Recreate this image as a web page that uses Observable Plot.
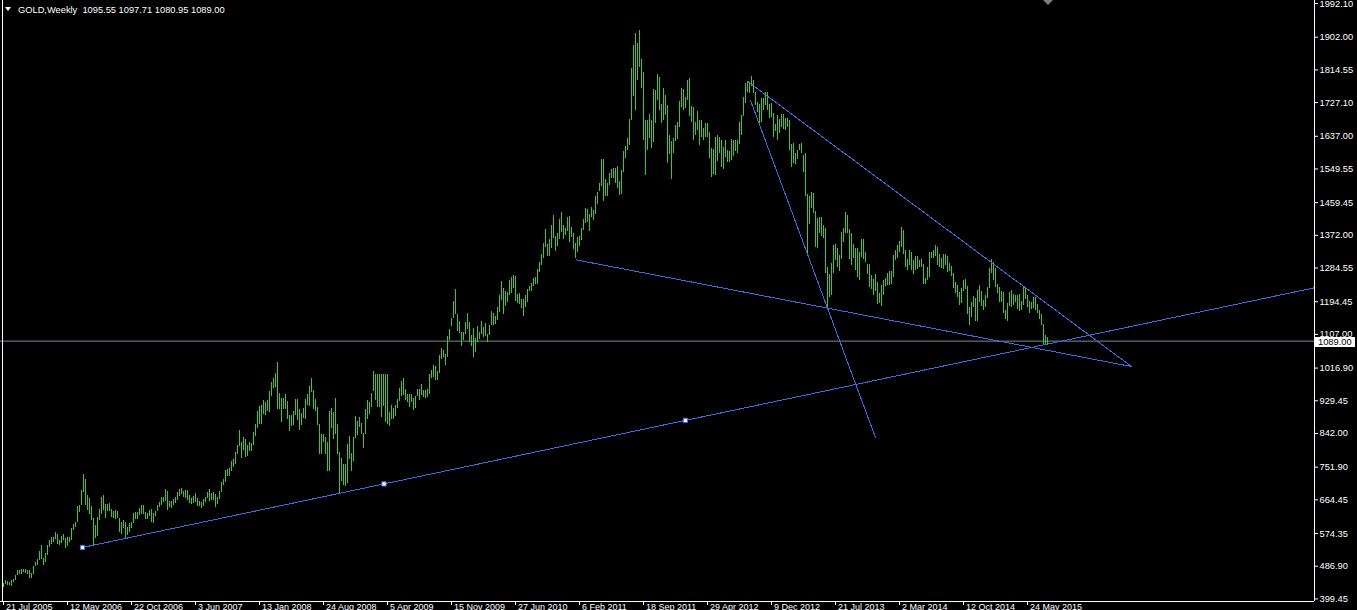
<!DOCTYPE html>
<html>
<head>
<meta charset="utf-8">
<script src="https://cdn.jsdelivr.net/npm/d3@7"></script>
<script src="https://cdn.jsdelivr.net/npm/@observablehq/plot@0.6"></script>
<style>
  html, body { margin: 0; padding: 0; background: #000; overflow: hidden; }
  #chart svg { display: block; }
</style>
</head>
<body>
<div id="chart"></div>
<script>
// Weekly GOLD bars, [high, low], one per week starting at the first bar (late Jul/Aug 2005)
const w2005 = [[441,429],[448,437],[447,436],[444,434],[448,433],[452,444],[461,449],[475,461],[476,464],[477,465],[478,469],[478,467],[476,466],[475,454],[468,455],[487,465],[496,485],[504,489],[527,503],[541,505],[508,490],[520,498]];
const w2006 = [[541,515],[556,537],[564,545],[563,551],[576,558],[573,544],[557,543],[566,548],[571,555],[560,535],[563,540],[565,551],[587,556],[598,583],[605,590],[646,604],[650,630],[690,648],[732,684],[720,648],[676,637],[667,625],[646,608],[614,543],[596,560],[616,567],[638,609],[670,626],[676,635],[651,614],[652,633],[655,632],[638,616],[634,614],[636,613],[633,615],[614,576],[603,571],[608,587],[603,560],[590,570],[600,578],[605,587],[627,600],[630,612],[630,612],[642,622],[648,626],[650,625],[630,611],[628,612],[635,621]];
const w2007 = [[638,603],[628,602],[634,621],[650,634],[657,645],[670,650],[672,658],[691,660],[688,636],[660,644],[660,641],[666,649],[670,655],[684,662],[693,674],[695,680],[687,672],[690,668],[690,664],[677,655],[668,652],[674,655],[682,658],[667,646],[661,647],[656,640],[665,647],[671,658],[683,667],[693,660],[681,664],[683,662],[679,643],[671,653],[686,666],[711,683],[720,703],[744,711],[746,726],[747,727],[767,739],[772,751],[790,758],[810,786],[850,808],[818,776],[830,796],[826,778],[810,781],[818,793],[815,794],[844,810]];
const w2008 = [[866,834],[902,855],[914,867],[917,866],[930,892],[925,889],[930,901],[954,899],[978,942],[989,962],[1003,966],[1033,905],[950,905],[935,872],[935,905],[946,905],[928,880],[890,846],[890,860],[902,863],[934,890],[932,876],[907,850],[895,862],[908,882],[933,880],[946,918],[968,915],[989,951],[958,906],[933,901],[912,862],[866,786],[840,785],[840,818],[832,787],[817,740],[902,740],[910,855],[899,825],[935,838],[867,785],[791,681],[775,713],[760,703],[760,699],[813,708],[833,772],[789,740],[830,768],[888,829],[873,836],[885,859]];
const w2009 = [[868,840],[843,802],[905,838],[929,880],[925,892],[950,911],[1007,953],[1000,931],[1000,911],[1000,912],[1000,885],[1000,913],[1000,870],[1000,865],[898,861],[917,880],[910,880],[918,887],[934,910],[962,927],[982,941],[989,944],[959,930],[946,924],[945,912],[946,925],[935,904],[942,910],[960,941],[960,931],[972,944],[957,937],[958,935],[960,939],[1000,947],[1011,988],[1025,993],[1020,985],[1008,984],[1050,1002],[1070,1040],[1064,1044],[1054,1023],[1101,1045],[1120,1090],[1150,1129],[1195,1150],[1226,1160],[1160,1115],[1141,1109],[1112,1075],[1112,1090]];
const w2010 = [[1140,1108],[1162,1120],[1140,1085],[1105,1075],[1123,1045],[1096,1058],[1127,1085],[1113,1094],[1141,1106],[1125,1098],[1135,1102],[1108,1086],[1131,1103],[1168,1130],[1162,1132],[1156,1133],[1180,1144],[1210,1166],[1249,1199],[1231,1160],[1221,1181],[1220,1192],[1251,1210],[1259,1217],[1265,1230],[1261,1196],[1215,1190],[1216,1186],[1201,1176],[1200,1155],[1212,1180],[1227,1192],[1236,1223],[1244,1223],[1257,1234],[1260,1241],[1280,1240],[1300,1273],[1322,1292],[1349,1311],[1388,1340],[1347,1315],[1360,1316],[1397,1338],[1424,1363],[1370,1330],[1378,1341],[1415,1360],[1432,1379],[1398,1362],[1390,1371],[1421,1381]];
const w2011 = [[1422,1353],[1392,1365],[1378,1335],[1349,1309],[1365,1326],[1369,1341],[1390,1357],[1415,1384],[1445,1405],[1441,1406],[1427,1381],[1447,1420],[1438,1413],[1476,1429],[1487,1454],[1510,1490],[1576,1502],[1574,1462],[1522,1477],[1512,1477],[1537,1505],[1547,1525],[1552,1524],[1551,1510],[1556,1496],[1516,1478],[1546,1480],[1595,1541],[1610,1577],[1632,1598],[1681,1612],[1817,1680],[1881,1744],[1912,1705],[1885,1787],[1921,1822],[1843,1764],[1808,1627],[1680,1532],[1680,1600],[1695,1630],[1680,1603],[1761,1620],[1760,1672],[1802,1733],[1794,1705],[1722,1670],[1764,1680],[1745,1693],[1720,1563],[1640,1588],[1622,1522]];
const w2012 = [[1630,1591],[1665,1623],[1673,1628],[1731,1660],[1764,1713],[1763,1706],[1742,1712],[1787,1733],[1791,1689],[1717,1674],[1715,1627],[1673,1638],[1703,1652],[1679,1612],[1680,1635],[1659,1625],[1672,1633],[1672,1634],[1647,1577],[1605,1527],[1601,1535],[1633,1532],[1640,1570],[1634,1590],[1627,1554],[1606,1548],[1625,1579],[1598,1567],[1596,1566],[1628,1573],[1627,1584],[1625,1597],[1626,1590],[1675,1615],[1693,1640],[1740,1690],[1778,1725],[1780,1753],[1780,1751],[1796,1770],[1786,1752],[1755,1718],[1728,1700],[1721,1672],[1737,1675],[1737,1707],[1755,1718],[1754,1705],[1723,1685],[1725,1687],[1698,1635],[1669,1651]];
const w2013 = [[1693,1625],[1683,1644],[1695,1661],[1696,1655],[1685,1652],[1684,1661],[1680,1600],[1616,1554],[1619,1565],[1590,1562],[1598,1575],[1616,1600],[1618,1590],[1586,1539],[1590,1476],[1480,1321],[1477,1400],[1487,1444],[1483,1430],[1437,1339],[1418,1336],[1420,1376],[1421,1370],[1399,1364],[1391,1269],[1285,1180],[1268,1207],[1298,1210],[1346,1271],[1348,1306],[1337,1286],[1318,1274],[1380,1308],[1390,1353],[1434,1376],[1425,1377],[1388,1307],[1376,1292],[1347,1309],[1338,1277],[1337,1260],[1326,1251],[1362,1312],[1361,1307],[1326,1299],[1295,1266],[1293,1233],[1265,1226],[1254,1210],[1267,1223],[1245,1186],[1217,1190],[1239,1182]];
const w2014 = [[1251,1211],[1256,1236],[1270,1238],[1275,1238],[1274,1240],[1319,1259],[1332,1306],[1345,1311],[1355,1325],[1392,1339],[1386,1321],[1332,1286],[1307,1277],[1331,1291],[1327,1277],[1305,1268],[1315,1277],[1315,1281],[1305,1285],[1307,1287],[1295,1240],[1257,1240],[1285,1251],[1325,1259],[1327,1310],[1332,1309],[1346,1315],[1340,1292],[1322,1287],[1311,1282],[1322,1280],[1321,1292],[1315,1273],[1297,1275],[1288,1262],[1269,1229],[1246,1216],[1237,1207],[1220,1183],[1229,1190],[1250,1221],[1254,1226],[1236,1160],[1179,1131],[1192,1151],[1209,1180],[1204,1142],[1224,1141],[1238,1193],[1221,1181],[1199,1170],[1212,1180]];
const w2015 = [[1232,1203],[1283,1229],[1307,1271],[1300,1252],[1282,1232],[1241,1216],[1232,1191],[1223,1191],[1219,1164],[1170,1147],[1189,1142],[1219,1181],[1224,1178],[1214,1183],[1210,1192],[1211,1174],[1214,1169],[1195,1170],[1232,1183],[1232,1201],[1211,1180],[1196,1162],[1193,1173],[1205,1175],[1205,1170],[1186,1162],[1170,1146],[1159,1131],[1133,1077],[1103,1078],[1097.71,1080.95]];

// Current (last) bar values shown in the header
const lastOHLC = [1095.55, 1097.71, 1080.95, 1089.00];
const symbolName = "GOLD,Weekly";

// Price scale labels (right)
const priceTicks = [1992.10, 1902.00, 1814.55, 1727.10, 1637.00, 1549.55, 1459.45, 1372.00, 1284.55, 1194.45, 1107.00, 1016.90, 929.45, 842.00, 751.90, 664.45, 574.35, 486.90, 399.45];

// Time scale labels (bottom), at bar index
const dateTickIndex = [0, 32, 64, 96, 128, 160, 192, 224, 256, 288, 320, 352, 384, 416, 448, 480, 512];
const dateLabels = ["21 Jul 2005", "12 May 2006", "22 Oct 2006", "3 Jun 2007", "13 Jan 2008", "24 Aug 2008", "5 Apr 2009", "15 Nov 2009", "27 Jun 2010", "6 Feb 2011", "18 Sep 2011", "29 Apr 2012", "9 Dec 2012", "21 Jul 2013", "2 Mar 2014", "12 Oct 2014", "24 May 2015"];

// Trend lines: [barIndex, price] anchors
const uptrend = [[39.5, 537], [341, 877]];           // ray to the right, selected (3 handles)
const upperLine = [[371.5, 1786], [564, 1021]];
const steepLine = [[373.5, 1733], [436, 831]];
const lowerLine = [[286.25, 1306.5], [564, 1021]];

// ---- build ----
const bars = [...w2005, ...w2006, ...w2007, ...w2008, ...w2009, ...w2010, ...w2011, ...w2012, ...w2013, ...w2014, ...w2015]
  .map(([high, low], i) => ({i, high, low}));

const xMax = 655.5;
const slope = (uptrend[1][1] - uptrend[0][1]) / (uptrend[1][0] - uptrend[0][0]);
const lines = [
  {x1: uptrend[0][0], y1: uptrend[0][1], x2: xMax, y2: uptrend[0][1] + (xMax - uptrend[0][0]) * slope},
  {x1: upperLine[0][0], y1: upperLine[0][1], x2: upperLine[1][0], y2: upperLine[1][1]},
  {x1: steepLine[0][0], y1: steepLine[0][1], x2: steepLine[1][0], y2: steepLine[1][1]},
  {x1: lowerLine[0][0], y1: lowerLine[0][1], x2: lowerLine[1][0], y2: lowerLine[1][1]}
];
const handles = [
  uptrend[0],
  [(uptrend[0][0] + uptrend[1][0]) / 2, (uptrend[0][1] + uptrend[1][1]) / 2],
  uptrend[1]
];

const lastClose = lastOHLC[3];
const font = "'Liberation Sans', Arial, sans-serif";
const green = "#32cd32";
const blue = "#4169e1";

const chart = Plot.plot({
  width: 1357,
  height: 610,
  marginLeft: 0,
  marginRight: 43,
  marginTop: 0,
  marginBottom: 9,
  style: {background: "#000", color: "#fff", fontFamily: font, fontSize: "9.3px", overflow: "visible"},
  x: {type: "linear", domain: [-1.5, xMax], axis: null},
  y: {type: "linear", domain: [392.5, 2000.2], axis: null},
  marks: [
    Plot.ruleY([lastClose], {stroke: "#778899"}),
    Plot.ruleX(bars, {x: "i", y1: "low", y2: "high", stroke: green, shapeRendering: "crispEdges"}),
    Plot.link(lines, {x1: "x1", y1: "y1", x2: "x2", y2: "y2", stroke: blue, strokeWidth: 1, shapeRendering: "crispEdges"}),
    Plot.dot(handles, {x: d => d[0], y: d => d[1], symbol: "square", r: 2.4, fill: "white", stroke: blue, strokeWidth: 1}),
    Plot.ruleX([-0.5], {stroke: "white"}),
    Plot.ruleX([xMax], {stroke: "white"}),
    Plot.ruleY([392.5], {stroke: "white"}),
    Plot.axisY(priceTicks, {anchor: "right", tickSize: 3, tickPadding: 2, tickFormat: d => d.toFixed(2), stroke: "white", fill: "white", fontSize: 9.3}),
    Plot.axisX(dateTickIndex, {anchor: "bottom", tickSize: 4, tickFormat: () => "", stroke: "white"}),
    Plot.text(dateTickIndex, {x: d => d, frameAnchor: "bottom", text: (d, k) => dateLabels[k], textAnchor: "start", lineAnchor: "top", dy: 2, dx: 2.5, fill: "white", fontSize: 9})
  ]
});

document.getElementById("chart").appendChild(chart);

const sy = chart.scale("y");
const sx = chart.scale("x");
const svg = d3.select(chart);

// Header: symbol, timeframe and last bar OHLC
svg.append("path")
  .attr("d", "M5,7 L11,7 L8,11 Z")
  .attr("fill", "white");
svg.append("text")
  .attr("x", 18).attr("y", 13)
  .attr("text-anchor", "start")
  .attr("fill", "white").attr("font-family", font).attr("font-size", "9.3px")
  .attr("xml:space", "preserve")
  .text(`${symbolName}  ${lastOHLC.map(v => v.toFixed(2)).join(" ")}`);

// Current price label box on the price scale
const yc = Math.round(sy.apply(lastClose));
svg.append("rect")
  .attr("x", 1315).attr("y", yc - 4).attr("width", 40).attr("height", 10)
  .attr("fill", "white");
svg.append("text")
  .attr("x", 1318).attr("y", yc + 1).attr("dy", "0.32em")
  .attr("text-anchor", "start")
  .attr("fill", "black").attr("font-family", font).attr("font-size", "9.3px")
  .text(lastClose.toFixed(2));

// chart-shift marker at top
const xs = sx.apply(bars.length - 0.5);
svg.append("path")
  .attr("d", `M${xs - 5},0 L${xs + 5},0 L${xs},5 Z`)
  .attr("fill", "#808080");
</script>
</body>
</html>
